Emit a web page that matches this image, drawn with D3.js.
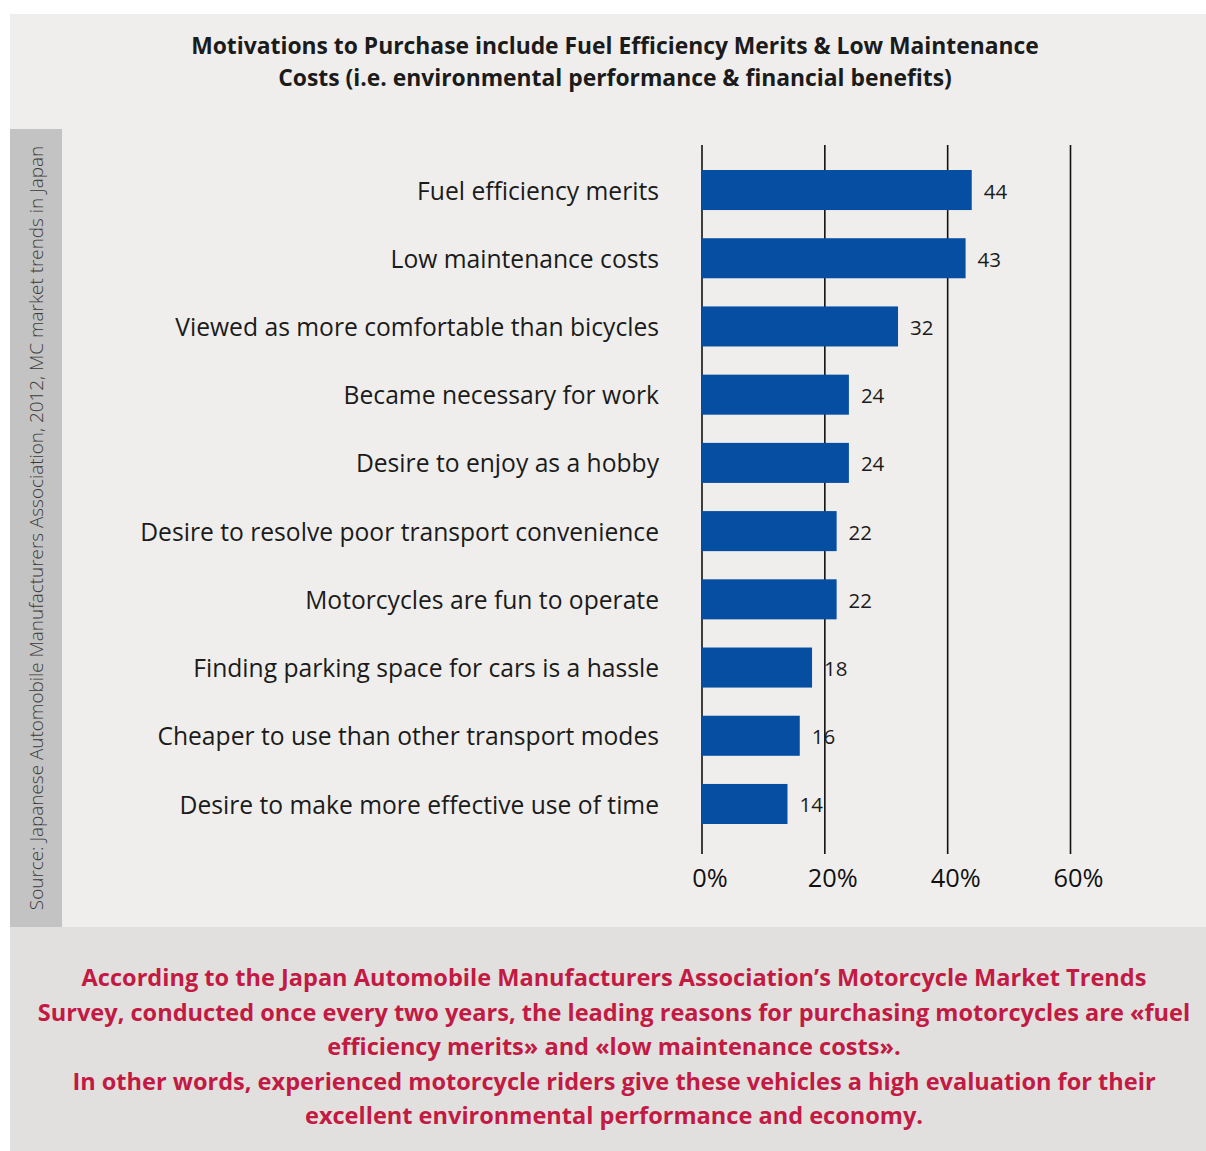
<!DOCTYPE html>
<html><head><meta charset="utf-8">
<script src="https://cdn.jsdelivr.net/npm/d3@7"></script>
<style>
html,body{margin:0;padding:0;background:#fff;}
svg{display:block;}
text{font-family:"Open Sans","Noto Sans",sans-serif;}
</style></head>
<body>
<svg id="chart" width="1206" height="1151"></svg>
<script>
const titleLines = [
  "Motivations to Purchase include Fuel Efficiency Merits & Low Maintenance",
  "Costs (i.e. environmental performance & financial benefits)"
];
const categories = [
  "Fuel efficiency merits",
  "Low maintenance costs",
  "Viewed as more comfortable than bicycles",
  "Became necessary for work",
  "Desire to enjoy as a hobby",
  "Desire to resolve poor transport convenience",
  "Motorcycles are fun to operate",
  "Finding parking space for cars is a hassle",
  "Cheaper to use than other transport modes",
  "Desire to make more effective use of time"
];
const values = [44, 43, 32, 24, 24, 22, 22, 18, 16, 14];
const xTicks = [0, 20, 40, 60];
const xTickLabels = ["0%", "20%", "40%", "60%"];
const sourceText = "Source: Japanese Automobile Manufacturers Association, 2012, MC market trends in Japan";
const noteLines = [
  "According to the Japan Automobile Manufacturers Association\u2019s Motorcycle Market Trends",
  "Survey, conducted once every two years, the leading reasons for purchasing motorcycles are \u00abfuel",
  "efficiency merits\u00bb and \u00ablow maintenance costs\u00bb.",
  "In other words, experienced motorcycle riders give these vehicles a high evaluation for their",
  "excellent environmental performance and economy."
];

const svg = d3.select("#chart");

// fit a group of text nodes so that a reference node reaches a target width
function fitGroup(sel, refIndex, target, base) {
  sel.attr("font-size", base);
  const w = sel.nodes()[refIndex].getComputedTextLength();
  sel.attr("font-size", base * target / w);
}

// panels
svg.append("rect").attr("x", 10).attr("y", 14).attr("width", 1196).attr("height", 913).attr("fill", "#efeeec");
svg.append("rect").attr("x", 10).attr("y", 129).attr("width", 52).attr("height", 798).attr("fill", "#c3c3c3");
svg.append("rect").attr("x", 10).attr("y", 927).attr("width", 1196).attr("height", 224).attr("fill", "#e1e0df");

// title
const title = svg.append("g").selectAll("text").data(titleLines).join("text")
  .attr("x", 615).attr("y", (d, i) => 54 + i * 32)
  .attr("text-anchor", "middle").attr("font-weight", 700).attr("fill", "#1b1b1b")
  .text(d => d);
fitGroup(title, 0, 848, 22);

// source
const src = svg.append("text")
  .attr("transform", "translate(43,528) rotate(-90)")
  .attr("text-anchor", "middle").attr("fill", "#3a3a3a").attr("font-weight", 300)
  .text(sourceText);
fitGroup(src, 0, 765, 18);

// scales
const x = d3.scaleLinear().domain([0, 60]).range([701.5, 1070]);
const y = d3.scaleBand().domain(categories).range([170, 824]).paddingInner(0.413).paddingOuter(0);

// gridlines / axis
const axis = d3.axisBottom(x).tickValues(xTicks)
  .tickFormat((d, i) => xTickLabels[i]).tickSize(-(854 - 145)).tickPadding(19);
const ax = svg.append("g").attr("transform", "translate(0,854)").call(axis);
ax.select(".domain").remove();
ax.selectAll(".tick line").attr("stroke", "#111").attr("stroke-width", 1.6);
ax.selectAll(".tick text").attr("fill", "#111").attr("dx", 8).attr("dy", "0.55em")
  .attr("font-family", "\"Open Sans\",\"Noto Sans\",sans-serif");
fitGroup(ax.selectAll(".tick text"), 2, 50, 22);

// bars
svg.append("g").selectAll("rect").data(values).join("rect")
  .attr("x", x(0)).attr("y", (d, i) => y(categories[i]))
  .attr("width", d => x(d) - x(0)).attr("height", y.bandwidth())
  .attr("fill", "#054ea2");

// value labels
svg.append("g").selectAll("text").data(values).join("text")
  .attr("x", d => x(d) + 12)
  .attr("y", (d, i) => y(categories[i]) + y.bandwidth() / 2 + 3)
  .attr("dominant-baseline", "middle").attr("fill", "#1b1b1b").attr("font-size", 20.5)
  .text(d => d);

// category labels
const cats = svg.append("g").selectAll("text").data(categories).join("text")
  .attr("x", 659).attr("y", d => y(d) + y.bandwidth() / 2 + 3)
  .attr("text-anchor", "end").attr("dominant-baseline", "middle").attr("fill", "#1b1b1b")
  .text(d => d);
fitGroup(cats, 5, 519, 22);

// note
const note = svg.append("g").selectAll("text").data(noteLines).join("text")
  .attr("x", 614).attr("y", (d, i) => 986 + i * 34.6)
  .attr("text-anchor", "middle").attr("font-weight", 700).attr("fill", "#c21a43")
  .text(d => d);
fitGroup(note, 1, 1153, 22);
</script>
</body></html>
